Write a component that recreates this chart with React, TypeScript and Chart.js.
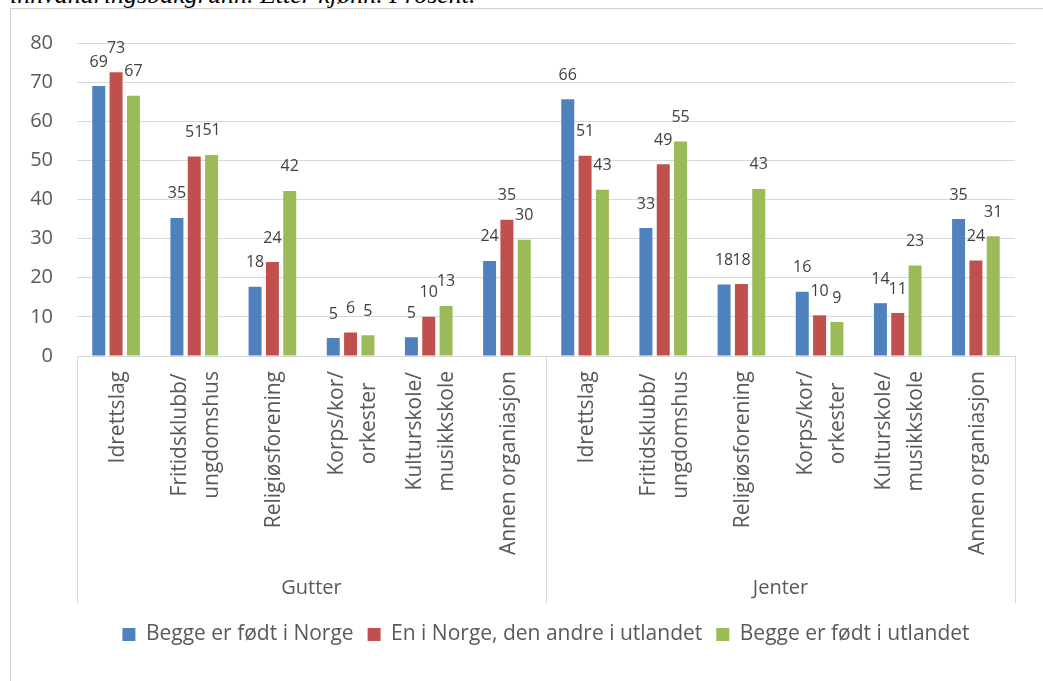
import React, { useEffect, useRef } from "react";
import { Chart, registerables } from "chart.js";

Chart.register(...registerables);

const FONT = "'Open Sans', sans-serif";

const activityLabels: string[][] = [
  ["Idrettslag"],
  ["Fritidsklubb/", "ungdomshus"],
  ["Religiøsforening"],
  ["Korps/kor/", "orkester"],
  ["Kulturskole/", "musikkskole"],
  ["Annen organiasjon"],
];
const groups = ["Gutter", "Jenter"];
const categoryLabels: string[][] = [...activityLabels, ...activityLabels];

const seriesNames = [
  "Begge er født i Norge",
  "En i Norge, den andre i utlandet",
  "Begge er født i utlandet",
];
const seriesColors = ["#4f81bd", "#c0504d", "#9bbb59"];

// Gutter (6) then Jenter (6)
const bornNorway = [69.0, 35.3, 17.7, 4.6, 4.8, 24.3, 65.6, 32.7, 18.3, 16.4, 13.5, 35.0];
const oneAbroad = [72.5, 51.0, 24.0, 6.0, 10.0, 34.8, 51.2, 49.0, 18.4, 10.4, 11.0, 24.4];
const bothAbroad = [66.5, 51.4, 42.2, 5.3, 12.8, 29.7, 42.5, 54.8, 42.7, 8.7, 23.1, 30.6];

const yMin = 0;
const yMax = 80;
const yStep = 10;

const overlayPlugin = {
  id: "overlay",
  afterDatasetsDraw(chart: any) {
    const ctx = chart.ctx as CanvasRenderingContext2D;
    const area = chart.chartArea;
    const xs = chart.scales.x;
    ctx.save();

    // data labels
    ctx.font = `16px ${FONT}`;
    ctx.fillStyle = "#404040";
    ctx.textAlign = "center";
    ctx.textBaseline = "middle";
    chart.data.datasets.forEach((ds: any, di: number) => {
      const meta = chart.getDatasetMeta(di);
      meta.data.forEach((bar: any, i: number) => {
        ctx.fillText(String(Math.round(ds.data[i])), bar.x, bar.y - 24);
      });
    });

    // category labels (rotated, multi-line block)
    ctx.font = `21px ${FONT}`;
    ctx.fillStyle = "#595959";
    const top = area.bottom + 15;
    (chart.data.labels as any[]).forEach((lab: any, i: number) => {
      const lines: string[] = Array.isArray(lab) ? lab : [lab];
      const cx = xs.getPixelForValue(i);
      const maxW = Math.max(...lines.map((l) => ctx.measureText(l).width));
      lines.forEach((l, j) => {
        const x = cx + 2 + (j - (lines.length - 1) / 2) * 32;
        ctx.save();
        ctx.translate(x, top + maxW / 2);
        ctx.rotate(-Math.PI / 2);
        ctx.textAlign = "center";
        ctx.textBaseline = "middle";
        ctx.fillText(l, 0, 0);
        ctx.restore();
      });
    });

    // group separators and labels
    const n = chart.data.labels.length;
    const catW = (area.right - area.left) / n;
    const per = n / groups.length;
    const boundary = (k: number) => xs.getPixelForValue(k) - catW / 2;
    ctx.strokeStyle = "#d9d9d9";
    ctx.lineWidth = 1;
    for (let g = 0; g <= groups.length; g++) {
      const bx = g === groups.length ? area.right : boundary(g * per);
      const px = Math.round(bx) + 0.5;
      ctx.beginPath();
      ctx.moveTo(px, area.bottom);
      ctx.lineTo(px, 603);
      ctx.stroke();
    }
    ctx.font = `20px ${FONT}`;
    ctx.fillStyle = "#595959";
    ctx.textAlign = "center";
    ctx.textBaseline = "middle";
    groups.forEach((gname, g) => {
      const l = boundary(g * per);
      const r = g === groups.length - 1 ? area.right : boundary((g + 1) * per);
      ctx.fillText(gname, (l + r) / 2, 588);
    });

    ctx.restore();
  },
};

export default function App() {
  const ref = useRef<HTMLCanvasElement>(null);

  useEffect(() => {
    const canvas = ref.current!;
    const seriesData = [bornNorway, oneAbroad, bothAbroad];
    const chart = new Chart(canvas, {
      type: "bar",
      data: {
        labels: categoryLabels as any,
        datasets: seriesNames.map((name, i) => ({
          label: name,
          data: seriesData[i],
          backgroundColor: seriesColors[i],
          categoryPercentage: 0.665,
          barPercentage: 0.75,
        })),
      },
      options: {
        responsive: false,
        animation: false,
        layout: { padding: { top: 43, right: 28, bottom: 26, left: 0 } },
        plugins: {
          legend: {
            position: "bottom",
            fullSize: false,
            labels: {
              boxWidth: 13,
              boxHeight: 13,
              padding: 14,
              color: "#595959",
              font: { family: FONT, size: 21 },
            },
          },
          tooltip: { enabled: false },
        },
        scales: {
          x: {
            ticks: { display: false },
            grid: { display: false },
            border: { display: true, color: "#d9d9d9" },
            afterFit: (s: any) => {
              s.height = 254;
            },
          },
          y: {
            min: yMin,
            max: yMax,
            ticks: {
              stepSize: yStep,
              padding: 24,
              color: "#595959",
              font: { family: FONT, size: 20 },
            },
            grid: { color: "#d9d9d9", drawTicks: false },
            border: { display: false },
            afterFit: (s: any) => {
              s.width = 77;
            },
          },
        },
      } as any,
      plugins: [overlayPlugin],
    });
    return () => chart.destroy();
  }, []);

  return (
    <div
      style={{
        position: "fixed",
        left: 0,
        top: 0,
        width: 1043,
        height: 681,
        overflow: "hidden",
        background: "#ffffff",
      }}
    >
      <div
        style={{
          position: "absolute",
          left: 10,
          top: -18,
          fontFamily: "'Liberation Serif', serif",
          fontStyle: "italic",
          fontSize: 26,
          lineHeight: "26px",
          whiteSpace: "nowrap",
          color: "#000",
        }}
      >
        innvandringsbakgrunn. Etter kjønn. Prosent.
      </div>
      <div
        style={{
          position: "absolute",
          left: 10,
          top: 8,
          width: 1100,
          height: 700,
          borderLeft: "1px solid #d0d0d0",
          borderTop: "1px solid #d0d0d0",
          background: "transparent",
        }}
      />
      <canvas
        ref={ref}
        width={1043}
        height={681}
        style={{ position: "absolute", left: 0, top: 0, display: "block" }}
      />
    </div>
  );
}
